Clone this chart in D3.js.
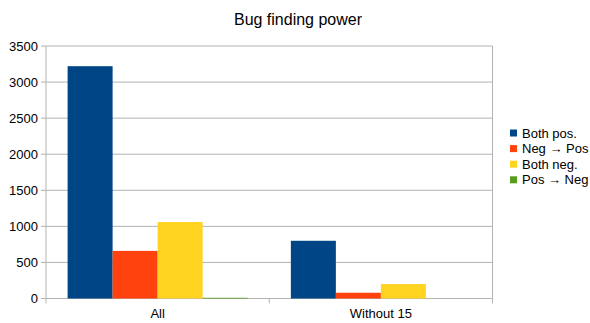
<!DOCTYPE html>
<html>
<head>
<meta charset="utf-8">
<script src="https://cdn.jsdelivr.net/npm/d3@7"></script>
<style>
  html, body { margin: 0; padding: 0; background: #fff; }
  svg { display: block; font-family: "Liberation Sans", Arial, sans-serif; }
</style>
</head>
<body>
<svg id="chart" width="590" height="323"></svg>
<script>
// Categories, series and axis ticks
const categories = ["All", "Without 15"];
const seriesNames = ["Both pos.", "Neg \u2192 Pos", "Both neg.", "Pos \u2192 Neg"];
const seriesColors = ["#004586", "#ff420e", "#ffd320", "#579d1c"];
const bothPos = [3220, 800];
const negToPos = [660, 80];
const bothNeg = [1060, 200];
const posToNeg = [10, 0];
const yTicks = [0, 500, 1000, 1500, 2000, 2500, 3000, 3500];

const seriesValues = [bothPos, negToPos, bothNeg, posToNeg];

const svg = d3.select("#chart");
const plot = { left: 46, right: 492.5, top: 46, bottom: 298.5 };

const x0 = d3.scaleBand().domain(categories).range([plot.left, plot.right]);
const x1 = d3.scaleBand().domain(d3.range(seriesNames.length))
  .range([0, x0.bandwidth()]).paddingOuter(0.48).paddingInner(0);
const y = d3.scaleLinear().domain([0, 3500]).range([plot.bottom, plot.top]);

// Title
svg.append("text")
  .attr("x", 298).attr("y", 25)
  .attr("text-anchor", "middle")
  .attr("font-size", 16).attr("fill", "#000")
  .text("Bug finding power");

// Horizontal grid lines
svg.append("g").selectAll("line").data(yTicks).join("line")
  .attr("x1", plot.left - 5).attr("x2", plot.right)
  .attr("y1", d => y(d)).attr("y2", d => y(d))
  .attr("stroke", "#b3b3b3").attr("stroke-width", 1);

// Y axis
const yAxis = svg.append("g")
  .attr("transform", `translate(${plot.left},0)`)
  .call(d3.axisLeft(y).tickValues(yTicks).tickFormat(d3.format("d")).tickSize(0).tickPadding(8));
yAxis.select(".domain").remove();
yAxis.selectAll("text").attr("font-size", 13).attr("fill", "#000")
  .attr("font-family", "Liberation Sans, Arial, sans-serif");

// Left and right frame lines
svg.append("line")
  .attr("x1", plot.left).attr("x2", plot.left)
  .attr("y1", plot.top).attr("y2", plot.bottom + 5)
  .attr("stroke", "#b3b3b3");
svg.append("line")
  .attr("x1", plot.right).attr("x2", plot.right)
  .attr("y1", plot.top).attr("y2", plot.bottom + 5)
  .attr("stroke", "#b3b3b3");

// X axis line with category separators
svg.append("line")
  .attr("x1", plot.left).attr("x2", plot.right)
  .attr("y1", plot.bottom).attr("y2", plot.bottom)
  .attr("stroke", "#b3b3b3");
const xAxis = svg.append("g")
  .attr("transform", `translate(0,${plot.bottom})`)
  .call(d3.axisBottom(x0).tickSize(0).tickPadding(10));
xAxis.select(".domain").remove();
xAxis.selectAll("text").attr("font-size", 13).attr("fill", "#000")
  .attr("font-family", "Liberation Sans, Arial, sans-serif");
svg.append("g").selectAll("line").data(categories.slice(1)).join("line")
  .attr("x1", d => x0(d)).attr("x2", d => x0(d))
  .attr("y1", plot.bottom).attr("y2", plot.bottom + 5)
  .attr("stroke", "#b3b3b3");

// Bars
const groups = svg.append("g").selectAll("g").data(categories).join("g")
  .attr("transform", d => `translate(${x0(d)},0)`);
groups.selectAll("rect")
  .data((c, ci) => seriesValues.map((vals, si) => ({ si, v: vals[ci] })))
  .join("rect")
  .attr("x", d => x1(d.si))
  .attr("width", x1.bandwidth())
  .attr("y", d => y(d.v))
  .attr("height", d => plot.bottom - y(d.v))
  .attr("fill", d => seriesColors[d.si]);

// Legend
const legend = svg.append("g").attr("transform", "translate(510,0)");
const items = legend.selectAll("g").data(seriesNames).join("g")
  .attr("transform", (d, i) => `translate(0,${133 + i * 15.6})`);
items.append("rect")
  .attr("x", 0).attr("y", -3.5).attr("width", 7).attr("height", 7)
  .attr("fill", (d, i) => seriesColors[i]);
items.append("text")
  .attr("x", 12).attr("y", 4.5)
  .attr("font-size", 13).attr("fill", "#000")
  .text(d => d);
</script>
</body>
</html>
